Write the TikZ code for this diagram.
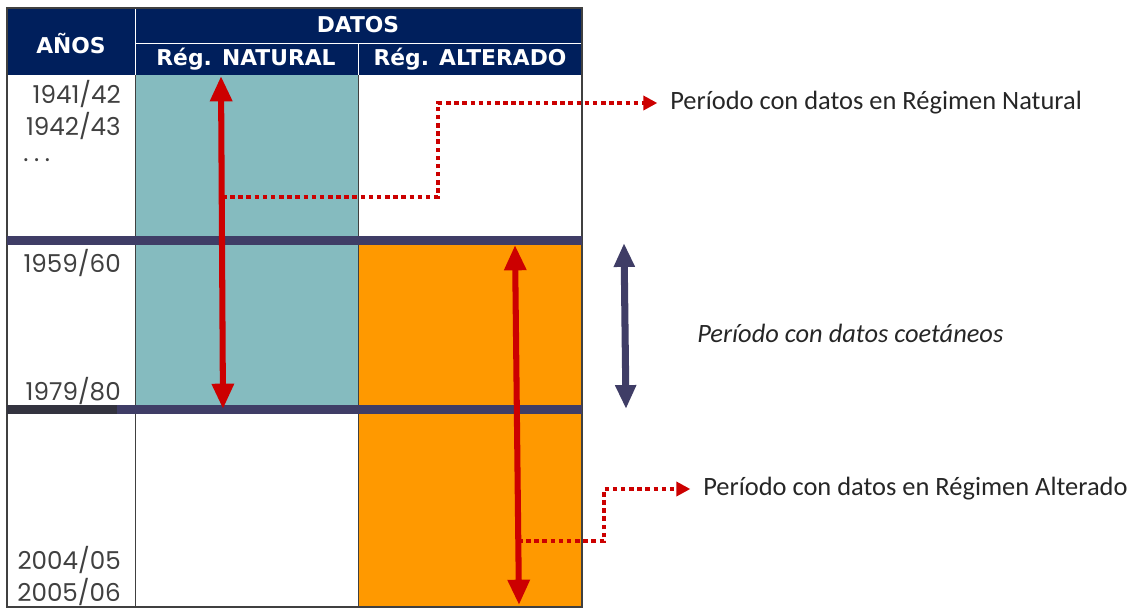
\documentclass[tikz,border=0pt]{standalone}
\usepackage{fontspec}
\setmainfont{Carlito}
\newfontfamily\yearfont{Poppins}
\newfontfamily\hdrfont{DejaVu Sans}
\usetikzlibrary{arrows.meta}

\definecolor{navyhdr}{HTML}{001F5C}
\definecolor{tealfill}{HTML}{85BBBF}
\definecolor{orangefill}{HTML}{FF9900}
\definecolor{redline}{HTML}{CC0000}
\definecolor{barblue}{HTML}{3F3D66}
\definecolor{bardark}{HTML}{33333F}

\tikzset{
  hdr/.style={text=white, font=\hdrfont\bfseries\fontsize{15.5}{15.5}\selectfont},
  yearlbl/.style={anchor=east, font=\yearfont\fontsize{17.5}{18}\selectfont, text=black!75, inner sep=0pt},
  redarrow/.style={line width=4.3pt, redline, {Triangle[length=18pt,width=15pt]}-{Triangle[length=18pt,width=15pt]}},
  navyarrow/.style={line width=5pt, barblue, {Triangle[length=17pt,width=14pt]}-{Triangle[length=17pt,width=14pt]}},
  dotlink/.style={line width=3.2pt, redline, dash pattern=on 3.2pt off 2.6pt, -{Triangle[length=10pt,width=10pt]}, shorten >=9pt},
  sidelbl/.style={anchor=west, font=\fontsize{18.8}{19}\selectfont, text=black!85, inner sep=0pt},
}

\begin{document}
\begin{tikzpicture}[x=0.025cm, y=-0.025cm]
      \useasboundingbox (0, 0) rectangle (1131, 608);

      % body fills
      \fill[tealfill] (135, 75) rectangle (358, 409);
      \fill[orangefill] (358, 241) rectangle (582, 607);

      % header
      \fill[navyhdr] (7, 8) rectangle (582, 75);
      \draw[white, line width=0.6pt] (135, 8) -- (135, 75);
      \draw[white, line width=0.6pt] (135, 43) -- (582, 43);
      \draw[white, line width=0.6pt] (358, 43) -- (358, 75);
      \node[hdr] (anos) at (71, 44) {AÑOS};
      \node[hdr] (datos) at (358, 25) {DATOS};
      \node[hdr] (natural) at (246, 59) {Rég. NATURAL};
      \node[hdr] (alterado) at (470, 59) {Rég. ALTERADO};

      % grid
      \draw[black!75, line width=0.6pt] (135, 75) -- (135, 607);
      \draw[black!75, line width=0.6pt] (358, 75) -- (358, 607);
      \draw[black!75, line width=0.8pt] (7, 8) rectangle (582, 607);

      % period bars
      \fill[barblue] (7, 236) rectangle (582, 245);
      \fill[barblue] (117, 405) rectangle (582, 414);
      \fill[bardark] (7, 405) rectangle (117, 414);

      % years
      \node[yearlbl] (y4142) at (121, 94) {1941/42};
      \node[yearlbl] (y4243) at (121, 126) {1942/43};
      \node[yearlbl, anchor=west] (ydots) at (23, 160) {.\hspace{4pt}.\hspace{4pt}.};
      \node[yearlbl] (y5960) at (121, 263) {1959/60};
      \node[yearlbl] (y7980) at (121, 391) {1979/80};
      \node[yearlbl] (y0405) at (121, 560) {2004/05};
      \node[yearlbl] (y0506) at (121, 592) {2005/06};

      % arrows in the table
      \coordinate (natTop) at (221, 76);
      \coordinate (natBot) at (223, 409);
      \coordinate (altTop) at (515, 245);
      \coordinate (altBot) at (519, 605);
      \draw[redarrow] (natTop) -- (natBot);
      \draw[redarrow] (altTop) -- (altBot);

      % coetaneous period
      \coordinate (coeTop) at (624, 243);
      \coordinate (coeBot) at (626, 409);
      \draw[navyarrow] (coeTop) -- (coeBot);
      \node[sidelbl, font=\itshape\fontsize{18.8}{19}\selectfont] (coetaneos) at (697, 333) {Período con datos coetáneos};

      % labels with dotted links
      \node[sidelbl] (lblNat) at (670, 103) {Período con datos en Régimen Natural};
      \node[sidelbl] (lblAlt) at (703, 489) {Período con datos en Régimen Alterado};
      \coordinate (natFoot) at (222, 197);
      \coordinate (altFoot) at (518, 541);
      \draw[dotlink] (natFoot) -| (438, 103) -- (lblNat.west);
      \draw[dotlink] (altFoot) -| (604, 489) -- (lblAlt.west);
\end{tikzpicture}
\end{document}
